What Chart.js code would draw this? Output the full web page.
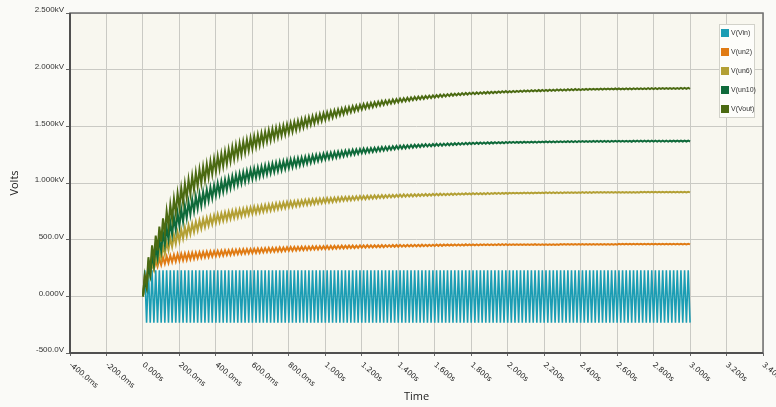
<!DOCTYPE html>
<html><head><meta charset="utf-8">
<script src="https://cdn.jsdelivr.net/npm/chart.js@4"></script>
<style>
html,body{margin:0;padding:0;background:#fafaf7;}
#wrap{position:relative;width:776px;height:407px;}
#legend{position:absolute;left:719px;top:24px;width:36px;height:94px;background:#fdfdfa;border:1px solid #d2d2ca;box-sizing:border-box;font-family:'Liberation Sans',Arial,sans-serif;font-size:7px;color:#333;}
.li{position:absolute;left:1px;height:9px;display:flex;align-items:center;white-space:nowrap;}
.sw{width:8px;height:8px;margin-right:2px;flex:none;}
</style></head><body>
<div id="wrap"><canvas id="c" width="776" height="407"></canvas><div id="legend"></div></div>
<script>
// ---- data (volts), one peak and one trough per 20 ms cycle, 0..3 s ----
const CYCLE_MS = 20;
const seriesNames = ['V(Vin)','V(un2)','V(un6)','V(un10)','V(Vout)'];
const seriesColors = ['#1b9db4','#e07b14','#b3a035','#0f6a3a','#4b6a12'];

const vinPeaks = [
230,230,230,230,230,230,230,230,230,230,230,230,230,230,230,
230,230,230,230,230,230,230,230,230,230,230,230,230,230,230,
230,230,230,230,230,230,230,230,230,230,230,230,230,230,230,
230,230,230,230,230,230,230,230,230,230,230,230,230,230,230,
230,230,230,230,230,230,230,230,230,230,230,230,230,230,230,
230,230,230,230,230,230,230,230,230,230,230,230,230,230,230,
230,230,230,230,230,230,230,230,230,230,230,230,230,230,230,
230,230,230,230,230,230,230,230,230,230,230,230,230,230,230,
230,230,230,230,230,230,230,230,230,230,230,230,230,230,230,
230,230,230,230,230,230,230,230,230,230,230,230,230,230,230];
const vinTroughs = [
-232,-232,-232,-232,-232,-232,-232,-232,-232,-232,-232,-232,-232,-232,-232,
-232,-232,-232,-232,-232,-232,-232,-232,-232,-232,-232,-232,-232,-232,-232,
-232,-232,-232,-232,-232,-232,-232,-232,-232,-232,-232,-232,-232,-232,-232,
-232,-232,-232,-232,-232,-232,-232,-232,-232,-232,-232,-232,-232,-232,-232,
-232,-232,-232,-232,-232,-232,-232,-232,-232,-232,-232,-232,-232,-232,-232,
-232,-232,-232,-232,-232,-232,-232,-232,-232,-232,-232,-232,-232,-232,-232,
-232,-232,-232,-232,-232,-232,-232,-232,-232,-232,-232,-232,-232,-232,-232,
-232,-232,-232,-232,-232,-232,-232,-232,-232,-232,-232,-232,-232,-232,-232,
-232,-232,-232,-232,-232,-232,-232,-232,-232,-232,-232,-232,-232,-232,-232,
-232,-232,-232,-232,-232,-232,-232,-232,-232,-232,-232,-232,-232,-232,-232];

const un2Peaks = [
180,252,290,315,332,344,352,360,366,372,
376,378,381,384,386,389,391,394,396,398,
401,403,405,407,410,411,413,415,416,418,
420,422,423,425,427,428,429,431,431,433,
435,436,436,438,439,440,441,442,442,443,
444,445,445,446,447,447,448,448,448,449,
450,451,450,451,451,452,452,452,453,453,
454,453,454,454,455,455,456,455,456,456,
457,457,457,457,457,458,458,458,459,459,
458,458,459,459,459,459,459,460,460,460,
459,459,459,459,459,459,459,460,460,460,
460,460,460,460,461,461,461,461,461,461,
462,462,462,462,462,462,462,462,462,462,
463,463,463,463,463,463,463,463,463,463,
464,464,464,464,464,464,464,464,464,464];
const un2Troughs = [
156,211,242,263,278,288,296,303,309,314,
319,323,327,331,336,340,344,347,351,355,
358,360,364,366,369,372,374,376,379,381,
383,385,388,390,392,394,396,397,400,402,
403,404,407,408,410,412,413,414,416,417,
418,419,421,422,423,425,426,426,428,429,
430,431,432,433,433,434,436,436,437,437,
438,439,440,440,441,441,442,443,444,444,
445,445,447,447,447,448,448,448,449,449,
450,450,451,451,451,451,451,452,452,452,
453,453,453,453,453,453,453,454,454,454,
454,454,454,454,455,455,455,455,455,455,
456,456,456,456,456,456,456,456,456,456,
457,457,457,457,457,457,457,457,457,457,
458,458,458,458,458,458,458,458,458,458];

const un6Peaks = [
115,225,300,360,407,447,481,515,541,567,
589,608,627,642,657,670,681,692,703,714,
724,731,739,746,753,760,766,772,778,784,
790,794,800,805,810,814,819,823,828,832,
836,839,843,846,850,853,856,858,861,863,
866,868,871,873,876,877,879,880,882,884,
886,887,888,890,891,893,893,894,895,896,
898,899,899,900,901,901,902,903,903,904,
905,906,905,906,907,908,907,908,909,909,
910,910,911,911,912,911,912,912,913,913,
913,913,914,914,915,915,915,916,916,916,
917,917,917,917,917,918,918,918,918,918,
919,919,919,920,920,920,920,920,921,921,
921,921,921,921,921,921,922,922,922,922,
922,922,922,922,922,923,923,923,923,923];
const un6Troughs = [
80,172,240,293,337,374,408,438,464,488,
511,532,551,568,584,598,611,624,637,649,
658,667,675,684,692,699,707,715,721,729,
734,741,747,753,758,764,769,775,780,786,
790,795,799,804,808,812,815,819,822,826,
829,833,836,840,843,846,848,851,853,857,
858,860,863,865,868,869,871,873,875,877,
878,879,881,882,883,885,886,887,889,890,
891,892,893,894,895,896,897,898,899,899,
900,900,901,901,902,903,904,904,905,905,
907,907,908,908,909,909,909,910,910,910,
911,911,911,911,911,912,912,912,912,912,
913,913,913,914,914,914,914,914,915,915,
915,915,915,915,915,915,916,916,916,916,
916,916,916,916,916,917,917,917,917,917];

const un10Peaks = [
140,270,365,440,505,559,607,655,695,735,
770,800,831,855,880,902,922,941,960,980,
998,1013,1028,1043,1058,1072,1083,1094,1105,1116,
1127,1135,1144,1154,1162,1170,1178,1185,1192,1199,
1207,1213,1219,1224,1230,1236,1242,1247,1252,1258,
1264,1267,1271,1276,1280,1284,1288,1292,1295,1299,
1303,1305,1308,1311,1314,1317,1319,1321,1324,1326,
1329,1331,1333,1335,1337,1339,1340,1342,1342,1344,
1346,1347,1347,1349,1350,1351,1352,1353,1355,1355,
1356,1357,1358,1358,1359,1359,1360,1361,1361,1362,
1362,1362,1363,1363,1364,1364,1365,1365,1366,1366,
1367,1367,1367,1368,1368,1368,1369,1369,1369,1370,
1370,1370,1370,1371,1371,1371,1371,1371,1372,1372,
1372,1372,1372,1372,1373,1373,1373,1373,1373,1373,
1373,1373,1373,1373,1374,1374,1374,1374,1374,1374];
const un10Troughs = [
75,187,272,342,402,453,501,545,585,623,
658,692,722,750,776,800,822,845,867,889,
906,923,940,957,973,986,999,1012,1025,1037,
1047,1058,1069,1078,1088,1098,1106,1115,1124,1133,
1140,1148,1156,1163,1171,1179,1187,1194,1201,1209,
1214,1219,1225,1230,1236,1242,1248,1252,1257,1263,
1266,1271,1275,1279,1283,1286,1290,1294,1297,1301,
1304,1306,1310,1312,1316,1318,1321,1322,1325,1327,
1328,1329,1332,1333,1335,1337,1338,1340,1341,1343,
1344,1345,1346,1346,1347,1349,1350,1351,1351,1352,
1354,1354,1355,1355,1356,1356,1357,1357,1358,1358,
1359,1359,1359,1360,1360,1360,1361,1361,1361,1362,
1362,1362,1362,1363,1363,1363,1363,1363,1364,1364,
1364,1364,1364,1364,1365,1365,1365,1365,1365,1365,
1365,1365,1365,1365,1366,1366,1366,1366,1366,1366];

const voutPeaks = [
185,345,450,535,615,688,751,809,862,910,
954,993,1029,1062,1093,1119,1143,1166,1190,1213,
1236,1255,1276,1295,1316,1333,1350,1365,1382,1397,
1412,1425,1438,1451,1464,1476,1486,1497,1507,1517,
1528,1538,1549,1560,1570,1580,1589,1598,1607,1616,
1624,1632,1640,1649,1656,1664,1670,1677,1683,1689,
1696,1701,1707,1712,1717,1723,1727,1731,1736,1740,
1745,1748,1752,1755,1759,1762,1765,1767,1771,1773,
1776,1779,1781,1784,1787,1788,1790,1793,1795,1796,
1798,1799,1801,1803,1804,1805,1806,1808,1810,1811,
1811,1812,1813,1815,1816,1817,1818,1819,1820,1821,
1822,1823,1824,1825,1825,1826,1827,1828,1829,1829,
1829,1830,1830,1831,1831,1832,1832,1833,1833,1834,
1834,1834,1835,1835,1835,1836,1836,1836,1837,1837,
1837,1837,1838,1838,1838,1838,1838,1839,1839,1839];
const voutTroughs = [
95,227,322,405,482,554,619,678,733,782,
826,866,904,938,970,998,1025,1051,1078,1103,
1126,1148,1170,1192,1213,1232,1250,1268,1286,1303,
1319,1334,1349,1364,1378,1391,1404,1416,1428,1441,
1453,1466,1479,1491,1503,1515,1526,1537,1548,1558,
1568,1578,1589,1599,1608,1617,1626,1634,1642,1650,
1657,1664,1670,1677,1684,1689,1695,1701,1706,1712,
1717,1722,1726,1731,1735,1739,1742,1747,1750,1754,
1757,1760,1764,1767,1770,1773,1775,1778,1780,1783,
1784,1786,1788,1789,1791,1793,1795,1797,1798,1799,
1801,1802,1804,1805,1806,1807,1808,1809,1810,1811,
1812,1813,1814,1815,1816,1816,1817,1818,1819,1820,
1821,1822,1823,1823,1824,1824,1825,1825,1826,1826,
1826,1827,1827,1827,1828,1828,1828,1829,1829,1829,
1829,1830,1830,1830,1830,1830,1831,1831,1831,1831];

const xTickValues = [-400,-200,0,200,400,600,800,1000,1200,1400,1600,1800,2000,2200,2400,2600,2800,3000,3200,3400];
const xTickLabels = ['-400.0ms','-200.0ms','0.000s','200.0ms','400.0ms','600.0ms','800.0ms','1.000s','1.200s','1.400s','1.600s','1.800s','2.000s','2.200s','2.400s','2.600s','2.800s','3.000s','3.200s','3.400s'];
const yTickValues = [-500,0,500,1000,1500,2000,2500];
const yTickLabels = ['-500.0V','0.000V','500.0V','1.000kV','1.500kV','2.000kV','2.500kV'];

// ---- build point lists ----
function buildSeries(peaks, troughs){
  const pts = [{x:0, y:0}];
  for (let k = 0; k < peaks.length; k++){
    pts.push({x: k*CYCLE_MS + CYCLE_MS/2, y: peaks[k]});
    pts.push({x: (k+1)*CYCLE_MS, y: troughs[k]});
  }
  return pts;
}
const allPeaks = [vinPeaks, un2Peaks, un6Peaks, un10Peaks, voutPeaks];
const allTroughs = [vinTroughs, un2Troughs, un6Troughs, un10Troughs, voutTroughs];
const widths = [1.6, 2, 2, 2, 2];

const datasets = seriesNames.map((n,i)=>({
  label:n,
  data: buildSeries(allPeaks[i], allTroughs[i]),
  borderColor: seriesColors[i],
  backgroundColor: seriesColors[i],
  borderWidth: widths[i],
  pointRadius: 0,
  tension: 0,
  fill: false,
  order: 4 - i
}));

// legend
const lg = document.getElementById('legend');
seriesNames.forEach((n,i)=>{
  const d = document.createElement('div');
  d.className='li'; d.style.top = (3 + i*19) + 'px';
  d.innerHTML = '<span class="sw" style="background:'+seriesColors[i]+'"></span><span>'+n+'</span>';
  lg.appendChild(d);
});

const framePlugin = {
  id:'frame',
  beforeDraw(chart){
    const {ctx, chartArea:a} = chart;
    ctx.save();
    ctx.fillStyle = '#fafaf7'; ctx.fillRect(0,0,chart.width,chart.height);
    ctx.fillStyle = '#f8f7ef'; ctx.fillRect(a.left,a.top,a.right-a.left,a.bottom-a.top);
    ctx.restore();
  },
  afterDraw(chart){
    const {ctx, chartArea:a, scales} = chart;
    ctx.save();
    ctx.strokeStyle='#707070'; ctx.lineWidth=1.5;
    ctx.strokeRect(a.left, a.top, a.right-a.left, a.bottom-a.top);
    ctx.strokeStyle='#505050'; ctx.lineWidth=2;
    ctx.beginPath(); ctx.moveTo(a.left, a.top); ctx.lineTo(a.left, a.bottom); ctx.lineTo(a.right, a.bottom); ctx.stroke();
    ctx.font = '7.5px "DejaVu Sans", sans-serif';
    ctx.fillStyle = '#222';
    ctx.textAlign = 'left'; ctx.textBaseline = 'middle';
    xTickValues.forEach((v,i)=>{
      const px = scales.x.getPixelForValue(v);
      ctx.save();
      ctx.translate(px, a.bottom + 11);
      ctx.rotate(40*Math.PI/180);
      ctx.fillText(xTickLabels[i], 0, 0);
      ctx.restore();
    });
    ctx.restore();
  }
};

new Chart(document.getElementById('c'), {
  type:'line',
  data:{datasets},
  plugins:[framePlugin],
  options:{
    responsive:false,
    animation:false,
    parsing:false,
    normalized:true,
    layout:{padding:{top:13,right:13,left:0,bottom:0}},
    plugins:{legend:{display:false}, tooltip:{enabled:false}},
    scales:{
      x:{
        type:'linear', min:-400, max:3400,
        ticks:{stepSize:200, display:false},
        grid:{color:'#cacac4', lineWidth:1, drawTicks:true, tickLength:3, tickColor:'#666'},
        border:{display:false},
        title:{display:true, text:'Time', color:'#222', font:{family:'Open Sans', size:11}, padding:{top:0,bottom:4}},
        afterFit(s){ s.height = 54; }
      },
      y:{
        type:'linear', min:-500, max:2500,
        ticks:{stepSize:500, padding:2, labelOffset:-3, color:'#333',
          font:{family:'Liberation Sans', size:8},
          callback:(v)=>{ const i = yTickValues.indexOf(v); return i>=0 ? yTickLabels[i] : ''; }},
        grid:{color:'#cacac4', lineWidth:1, tickLength:4, tickColor:'#666'},
        border:{display:false},
        title:{display:true, text:'Volts', color:'#222', font:{family:'Open Sans', size:11}, padding:{top:8,bottom:0}},
        afterFit(s){ s.width = 70; }
      }
    }
  }
});
</script>
</body></html>
